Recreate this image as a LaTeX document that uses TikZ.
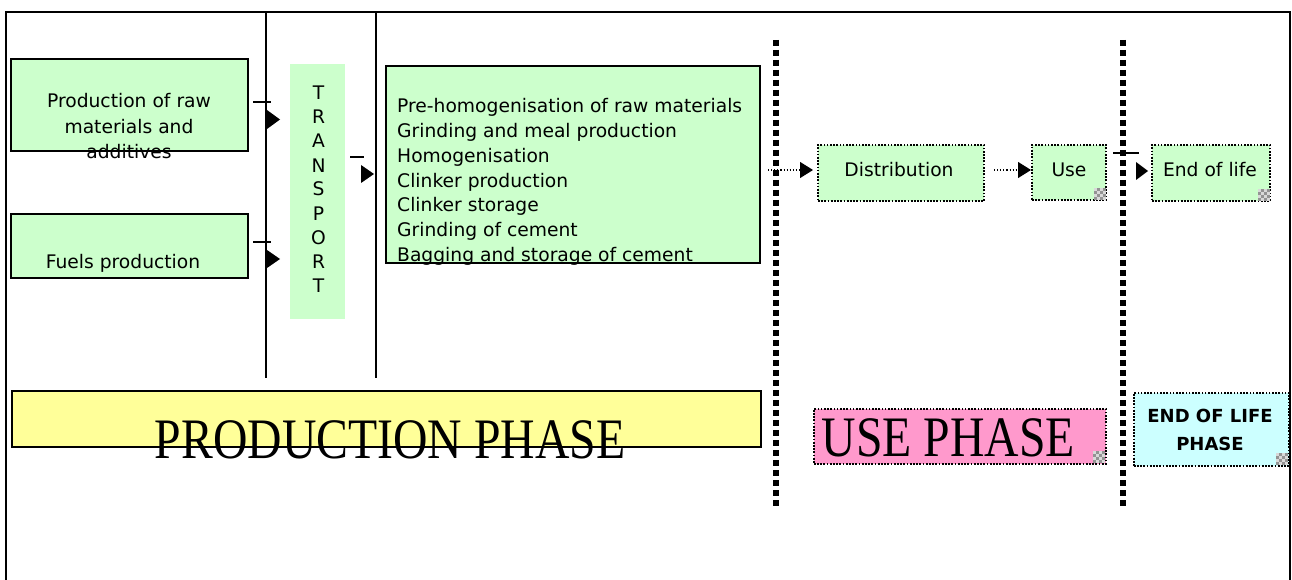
\documentclass[tikz,border=0pt]{standalone}
\usepackage{fontspec}
\usepackage{graphicx}
\setmainfont{DejaVu Sans}
\newfontfamily\serifph{Liberation Serif}
\usetikzlibrary{arrows.meta}
\definecolor{pgreen}{HTML}{CCFFCC}
\definecolor{pyellow}{HTML}{FFFF99}
\definecolor{ppink}{HTML}{FF99CC}
\definecolor{pcyan}{HTML}{CCFFFF}
\begin{document}
\begin{tikzpicture}[x=1pt,y=-1pt,
  gbox/.style={draw=black, line width=1.6pt, fill=pgreen, anchor=north west, inner sep=0pt, outer sep=0pt},
  dotb/.style={draw=black, line width=1.7pt, dash pattern=on 1.7pt off 1.5pt},
  dbox/.style={dotb, fill=pgreen, anchor=north west, inner sep=0pt, outer sep=0pt},
  txt/.style={font=\fontsize{18.7}{24.7}\selectfont, inner sep=0pt, anchor=base},
  ltxt/.style={font=\fontsize{18.7}{24.7}\selectfont, inner sep=0pt, anchor=base west},
  tick/.style={line width=1.2pt},
  tri/.style={fill=black},
  vline/.style={line width=1.5pt},
  sep/.style={line width=6pt, dash pattern=on 6pt off 4pt},
  darr/.style={dotted, line width=1.1pt, -{Triangle[length=13pt,width=16pt]}},
  phase/.style={inner sep=0pt, anchor=base},
  checker/.pic={
    \fill[gray!85] (-12,-12) rectangle (0,0);
    \foreach \i/\j in {0/0,0/2,1/1,1/3,2/0,2/2,3/1,3/3}
      \fill[gray!30] (-12+3*\i,-12+3*\j) rectangle ++(3,3);
  }]
\useasboundingbox (0,0) rectangle (1292,580);
\fill[white] (0,0) rectangle (1292,580);

% outer frame
\draw[line width=2pt] (6,580) -- (6,12) -- (1290,12) -- (1290,580);

% transport lines
\draw[vline] (266,12) -- (266,378);
\draw[vline] (376,12) -- (376,378);

% production boxes
\node[gbox, minimum width=237pt, minimum height=92pt] (raw) at (11,59) {};
\node[txt] (rawt1) at (129,108) {Production of raw};
\node[txt] (rawt2) at (129,134) {materials and};
\node[txt] (rawt3) at (129,159) {additives};

\node[gbox, minimum width=237pt, minimum height=64pt] (fuel) at (11,214) {};
\node[txt] (fuelt) at (123,268) {Fuels production};

% transport box
\node[fill=pgreen, anchor=north west, inner sep=0pt, minimum width=55pt, minimum height=255pt] (transp) at (290,64) {};
\foreach \l [count=\k from 0] in {T,R,A,N,S,P,O,R,T}
  \node[txt] (tr\k) at (318.5,100+24*\k) {\l};

% main process box
\node[gbox, minimum width=374pt, minimum height=197pt] (proc) at (386,66) {};
\node[ltxt] (p1) at (397,113) {Pre-homogenisation of raw materials};
\node[ltxt] (p2) at (397,137.7) {Grinding and meal production};
\node[ltxt] (p3) at (397,162.4) {Homogenisation};
\node[ltxt] (p4) at (397,187.1) {Clinker production};
\node[ltxt] (p5) at (397,211.8) {Clinker storage};
\node[ltxt] (p6) at (397,236.5) {Grinding of cement};
\node[ltxt] (p7) at (397,261.2) {Bagging and storage of cement};

% ticks and arrowheads
\draw[tick] (253,102) -- (271,102);
\fill[tri] (267,110) -- (280,119.5) -- (267,129) -- cycle;
\draw[tick] (253,242) -- (271,242);
\fill[tri] (267,250) -- (280,259) -- (267,268) -- cycle;
\draw[tick] (350,157) -- (364,157);
\fill[tri] (361,165) -- (374,174) -- (361,183) -- cycle;

% separators
\draw[sep] (776,40) -- (776,506);
\draw[sep] (1123,40) -- (1123,506);

% use / end-of-life boxes
\node[dbox, minimum width=166pt, minimum height=56pt] (dist) at (818,145) {};
\node[txt] (distt) at (899,177) {Distribution};
\node[dbox, minimum width=74pt, minimum height=55pt] (use) at (1032,145) {};
\node[txt] (uset) at (1069,177) {Use};
\pic at (1106,200) {checker};
\node[dbox, minimum width=118pt, minimum height=56pt] (eol) at (1152,145) {};
\node[txt] (eolt) at (1210,177) {End of life};
\pic at (1270,201) {checker};

\coordinate (s1) at (768,170);
\coordinate (s2) at (994,170);
\draw[darr, shorten >=5pt] (s1) -- (s1 -| dist.west);
\draw[darr, shorten >=1pt] (s2) -- (s2 -| use.west);
\draw[tick] (1113,153) -- (1139,153);
\fill[tri] (1136,162) -- (1148,171) -- (1136,180) -- cycle;

% phases
\node[draw=black, line width=1.6pt, fill=pyellow, anchor=north west, inner sep=0pt, minimum width=749pt, minimum height=56pt] (prodph) at (11,390) {};
\node[phase] (prodpht) at (390,458) {\scalebox{1}[1.2]{\fontsize{47.7}{50}\serifph PRODUCTION PHASE}};

\node[dotb, fill=ppink, anchor=north west, inner sep=0pt, minimum width=292pt, minimum height=55pt] (useph) at (813,408) {};
\node[phase] (usepht) at (948.5,456) {\scalebox{1}[1.2]{\fontsize{47.7}{50}\serifph USE PHASE}};
\pic at (1105,463) {checker};

\node[dotb, fill=pcyan, anchor=north west, inner sep=0pt, minimum width=155pt, minimum height=73pt] (eolph) at (1133,392) {};
\node[txt, font=\fontsize{18}{24}\selectfont\bfseries] (eolpht1) at (1210,422) {END OF LIFE};
\node[txt, font=\fontsize{18}{24}\selectfont\bfseries] (eolpht2) at (1210,450) {PHASE};
\pic at (1288,465) {checker};
\end{tikzpicture}
\end{document}
